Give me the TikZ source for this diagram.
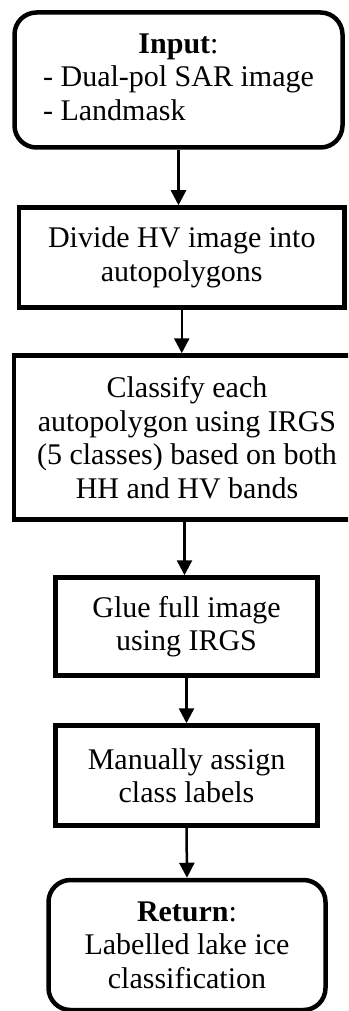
\documentclass[tikz,border=0pt]{standalone}
\usepackage{fontspec}
\setmainfont{Liberation Serif}
\usetikzlibrary{arrows.meta}
\begin{document}
\begin{tikzpicture}[x=1pt,y=-1pt,
  every node/.style={font=\fontsize{30}{33.5}\selectfont, inner sep=0pt, align=center},
  box/.style={draw, line width=4.5pt, rectangle},
  rbox/.style={box, rounded corners=22pt},
  flow/.style={line width=2.5pt, -{Triangle[width=15pt,length=15pt]}}]
\path[use as bounding box] (0,0) rectangle (348,1011);
\clip (0,0) rectangle (348,1011);
\node[rbox, minimum width=328pt, minimum height=135pt] (b1) at (178.5,80)
  {\begin{tabular}{@{}l@{}}\multicolumn{1}{@{}c@{}}{\textbf{Input}:}\\- Dual-pol SAR image\\- Landmask\end{tabular}};
\node[box, minimum width=325.5pt, minimum height=100pt] (b2) at (181.75,257.5)
  {Divide HV image into\\autopolygons};
\node[box, minimum width=346pt, minimum height=164pt] (b3) at (187,437.5)
  {Classify each\\autopolygon using IRGS\\(5 classes) based on both\\HH and HV bands};
\node[box, minimum width=262pt, minimum height=98pt] (b4) at (186.5,626.5)
  {Glue full image\\using IRGS};
\node[box, minimum width=262pt, minimum height=100pt] (b5) at (186.5,775.5)
  {Manually assign\\class labels};
\node[rbox, minimum width=277pt, minimum height=130pt] (b6) at (187,945)
  {\textbf{Return}:\\Labelled lake ice\\classification};
\draw[flow] (b1.south) -- (b1.south |- b2.north);
\draw[flow] (b2.south) -- (b2.south |- b3.north);
\draw[flow] ([xshift=-2.5pt]b3.south) -- ([xshift=-2.5pt]b3.south |- b4.north);
\draw[flow] (b4.south) -- (b5.north);
\draw[flow] (b5.south) -- (b6.north);
\end{tikzpicture}
\end{document}
